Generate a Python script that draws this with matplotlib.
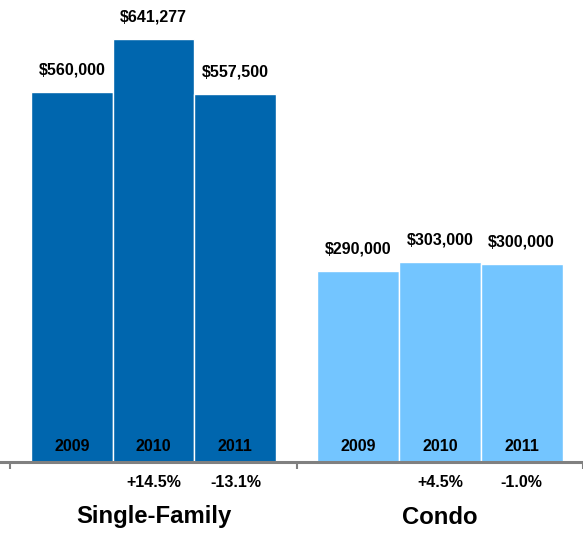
import matplotlib
matplotlib.use("Agg")
import matplotlib.pyplot as plt

plt.rcParams["font.family"] = ["Liberation Sans", "DejaVu Sans"]

groups = ["Single-Family", "Condo"]
years = ["2009", "2010", "2011"]
single_family = [560000, 641277, 557500]
condo = [290000, 303000, 300000]
single_change = ["", "+14.5%", "-13.1%"]
condo_change = ["", "+4.5%", "-1.0%"]

DARK = "#0066ae"
LIGHT = "#73c5ff"


def main():
    fig = plt.figure(figsize=(5.83, 5.33), dpi=100)
    ax = fig.add_axes([0, 71 / 533, 1, 462 / 533])

    x1 = [0, 1, 2]
    x2 = [3.5, 4.5, 5.5]
    series = [(x1, single_family, single_change, DARK, groups[0]),
              (x2, condo, condo_change, LIGHT, groups[1])]

    for xs, vals, changes, color, name in series:
        ax.bar(xs, vals, width=1.0, color=color, edgecolor="white", linewidth=1)
        for x, v, yr, ch in zip(xs, vals, years, changes):
            ax.annotate(f"${v:,}", (x, v), xytext=(0, 15.8), textcoords="offset points",
                        ha="center", va="center", fontsize=11.5, fontweight="bold")
            ax.annotate(yr, (x, 0), xytext=(0, 11.5), textcoords="offset points",
                        ha="center", va="center", fontsize=11.5, fontweight="bold")
            if ch:
                ax.annotate(ch, (x, 0), xytext=(0, -14.8), textcoords="offset points",
                            ha="center", va="center", fontsize=11.5, fontweight="bold",
                            annotation_clip=False)
        ax.annotate(name, (xs[1], 0), xytext=(0, -39.6),
                    textcoords="offset points", ha="center", va="center",
                    fontsize=17.2, fontweight="bold", annotation_clip=False)

    ax.set_xlim(-0.878, 6.232)
    ax.set_ylim(0, 700000)
    for s in ["left", "right", "top"]:
        ax.spines[s].set_visible(False)
    ax.spines["bottom"].set_color("#808080")
    ax.spines["bottom"].set_linewidth(2.2)
    ax.set_xticks([-0.75, 2.75, 6.25])
    ax.set_xticklabels([])
    ax.tick_params(axis="x", direction="out", length=5, width=1.5, color="#808080")
    ax.set_yticks([])

    fig.savefig("out.png", dpi=100)


if __name__ == "__main__":
    main()
